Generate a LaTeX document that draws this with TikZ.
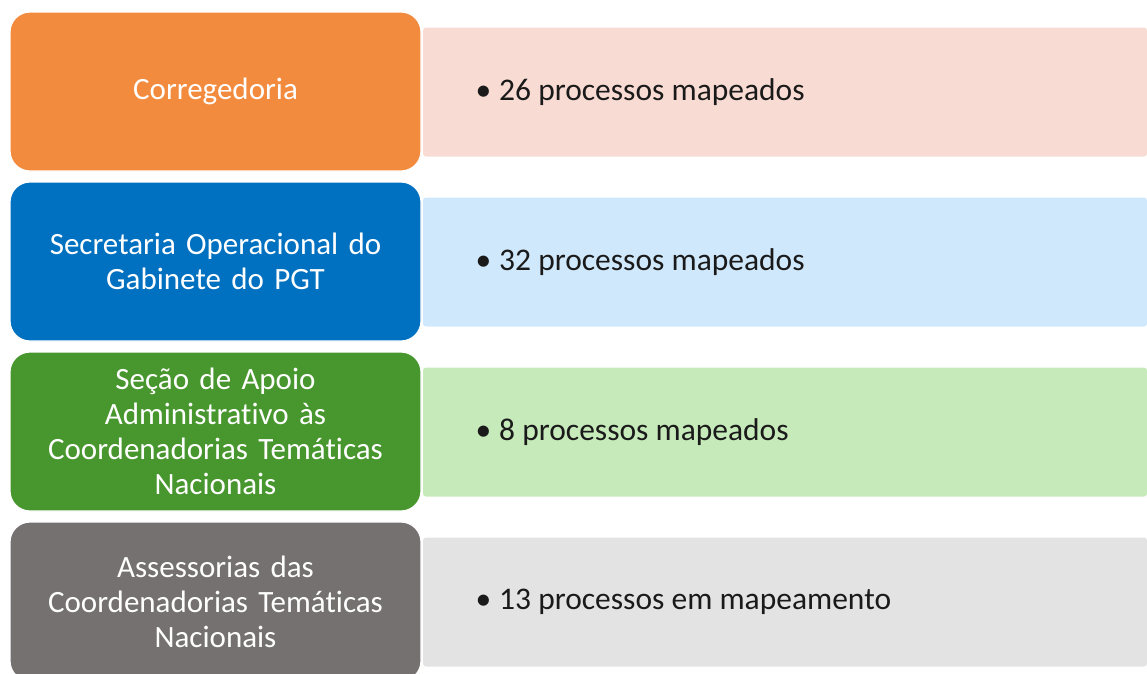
\documentclass[tikz,border=0pt]{standalone}
\usepackage{fontspec}
\setmainfont{Carlito}[Ligatures=NoCommon]
\usepackage{xcolor}
\usepackage{tikz}

\definecolor{corOrange}{HTML}{F38B3E}
\definecolor{corBlue}{HTML}{0070C0}
\definecolor{corGreen}{HTML}{48962E}
\definecolor{corGray}{HTML}{767171}
\definecolor{lightOrange}{HTML}{F8DBD3}
\definecolor{lightBlue}{HTML}{CFE8FB}
\definecolor{lightGreen}{HTML}{C6EABA}
\definecolor{lightGray}{HTML}{E3E3E3}
\definecolor{textDark}{HTML}{1A1A1A}

\begin{document}
\begin{tikzpicture}[
  x=1pt, y=-1pt,
  unit/.style={rounded corners=20pt, draw=white, line width=1.2pt,
    minimum width=411pt, minimum height=159pt, text width=395pt,
    align=center, text=white, font=\fontsize{31}{35}\selectfont},
  detail/.style={rounded corners=3pt, minimum width=724pt,
    minimum height=129pt},
  count/.style={anchor=west, text=textDark,
    font=\fontsize{31.5}{36}\selectfont}
]
  \useasboundingbox (0,0) rectangle (1147,673);
  \clip (0,0) rectangle (1147,673);

  % right-hand panels
  \node[detail, fill=lightOrange] (det1) at (785,92) {};
  \node[detail, fill=lightBlue] (det2) at (785,262) {};
  \node[detail, fill=lightGreen] (det3) at (785,432) {};
  \node[detail, fill=lightGray] (det4) at (785,602) {};

  % units
  \node[unit, fill=corOrange] (corr) at (215.5,91.5) {Corregedoria};
  \node[unit, fill=corBlue] (secop) at (215.5,261.5)
    {Secretaria Operacional do\\Gabinete do PGT};
  \node[unit, fill=corGreen] (secapoio) at (215.5,431.5)
    {Seção de Apoio\\Administrativo às\\Coordenadorias Temáticas\\Nacionais};
  \node[unit, fill=corGray] (assess) at (215.5,601.5)
    {Assessorias das\\Coordenadorias Temáticas\\Nacionais};

  % counts
  \node[count] (n1) at (472,92) {\textbullet\hspace{8pt}26 processos mapeados};
  \node[count] (n2) at (472,262) {\textbullet\hspace{8pt}32 processos mapeados};
  \node[count] (n3) at (472,432) {\textbullet\hspace{8pt}8 processos mapeados};
  \node[count] (n4) at (472,602) {\textbullet\hspace{8pt}13 processos em mapeamento};
\end{tikzpicture}
\end{document}
